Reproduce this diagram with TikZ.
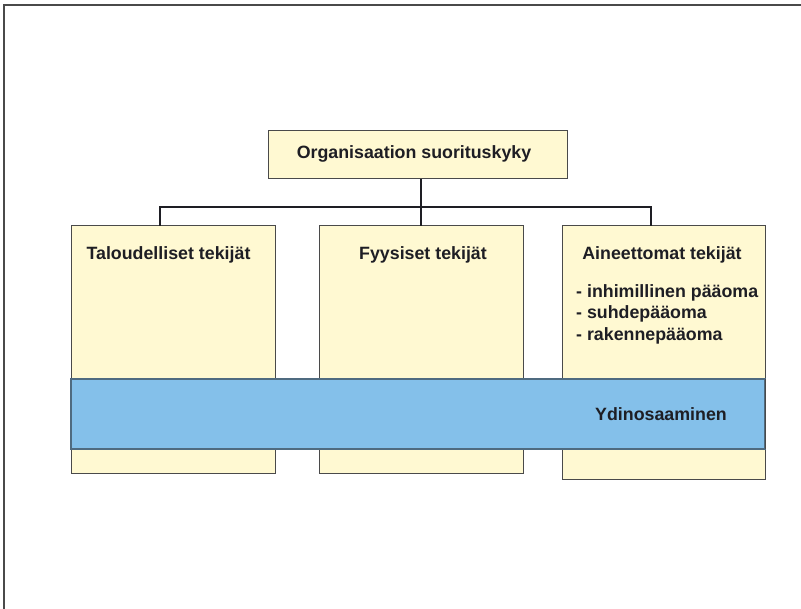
\documentclass[tikz,border=0pt]{standalone}
\usepackage{fontspec}
\setmainfont{Liberation Sans}
\begin{document}
\definecolor{boxfill}{HTML}{FFF9D2}
\definecolor{boxline}{HTML}{4A4A4A}
\definecolor{bandfill}{HTML}{84C0EA}
\definecolor{bandline}{HTML}{4F6B80}
\definecolor{ink}{HTML}{1E1E24}
\begin{tikzpicture}[x=1pt,y=-1pt,
  factor/.style={draw=boxline,fill=boxfill,line width=1pt},
  label/.style={font=\bfseries\fontsize{17.8}{21.5}\selectfont,text=ink,inner sep=0pt},
  link/.style={draw=ink,line width=1.6pt}]
\useasboundingbox (0,0) rectangle (801,609);
% page frame (top and left edges)
\draw[draw=boxline,line width=1.2pt] (4,609) -- (4,5) -- (801,5);

% factor boxes
\draw[factor] (71,226) rectangle (275,474);
\draw[factor] (319,226) rectangle (523,474);
\draw[factor] (562,226) rectangle (765,480);
\coordinate (left) at (160,226);
\coordinate (mid) at (421,226);
\coordinate (right) at (651,226);

% top box
\node[factor,minimum width=299pt,minimum height=48pt,inner sep=0pt] (top) at (417.5,155) {};
\node[label] (toptext) at (414,154) {Organisaation suorituskyky};

% connectors
\coordinate (bus) at (421,207);
\draw[link] (top.south -| mid) -- (mid);
\draw[link] (left) -- (left |- bus) -- (right |- bus) -- (right);

% core competence band
\draw[draw=bandline,fill=bandfill,line width=1.2pt] (71,379) rectangle (765,449);
\draw[draw=boxline,line width=1pt] (765,379) -- (765,449);

% texts
\node[label] (t1) at (168.5,255) {Taloudelliset tekijät};
\node[label] (t2) at (423,255) {Fyysiset tekijät};
\node[label] (t3) at (662,255) {Aineettomat tekijät};
\node[label,anchor=west,align=left] (list) at (576,314)
  {- inhimillinen pääoma\\- suhdepääoma\\- rakennepääoma};
\node[label] (core) at (661,414) {Ydinosaaminen};
\end{tikzpicture}
\end{document}
